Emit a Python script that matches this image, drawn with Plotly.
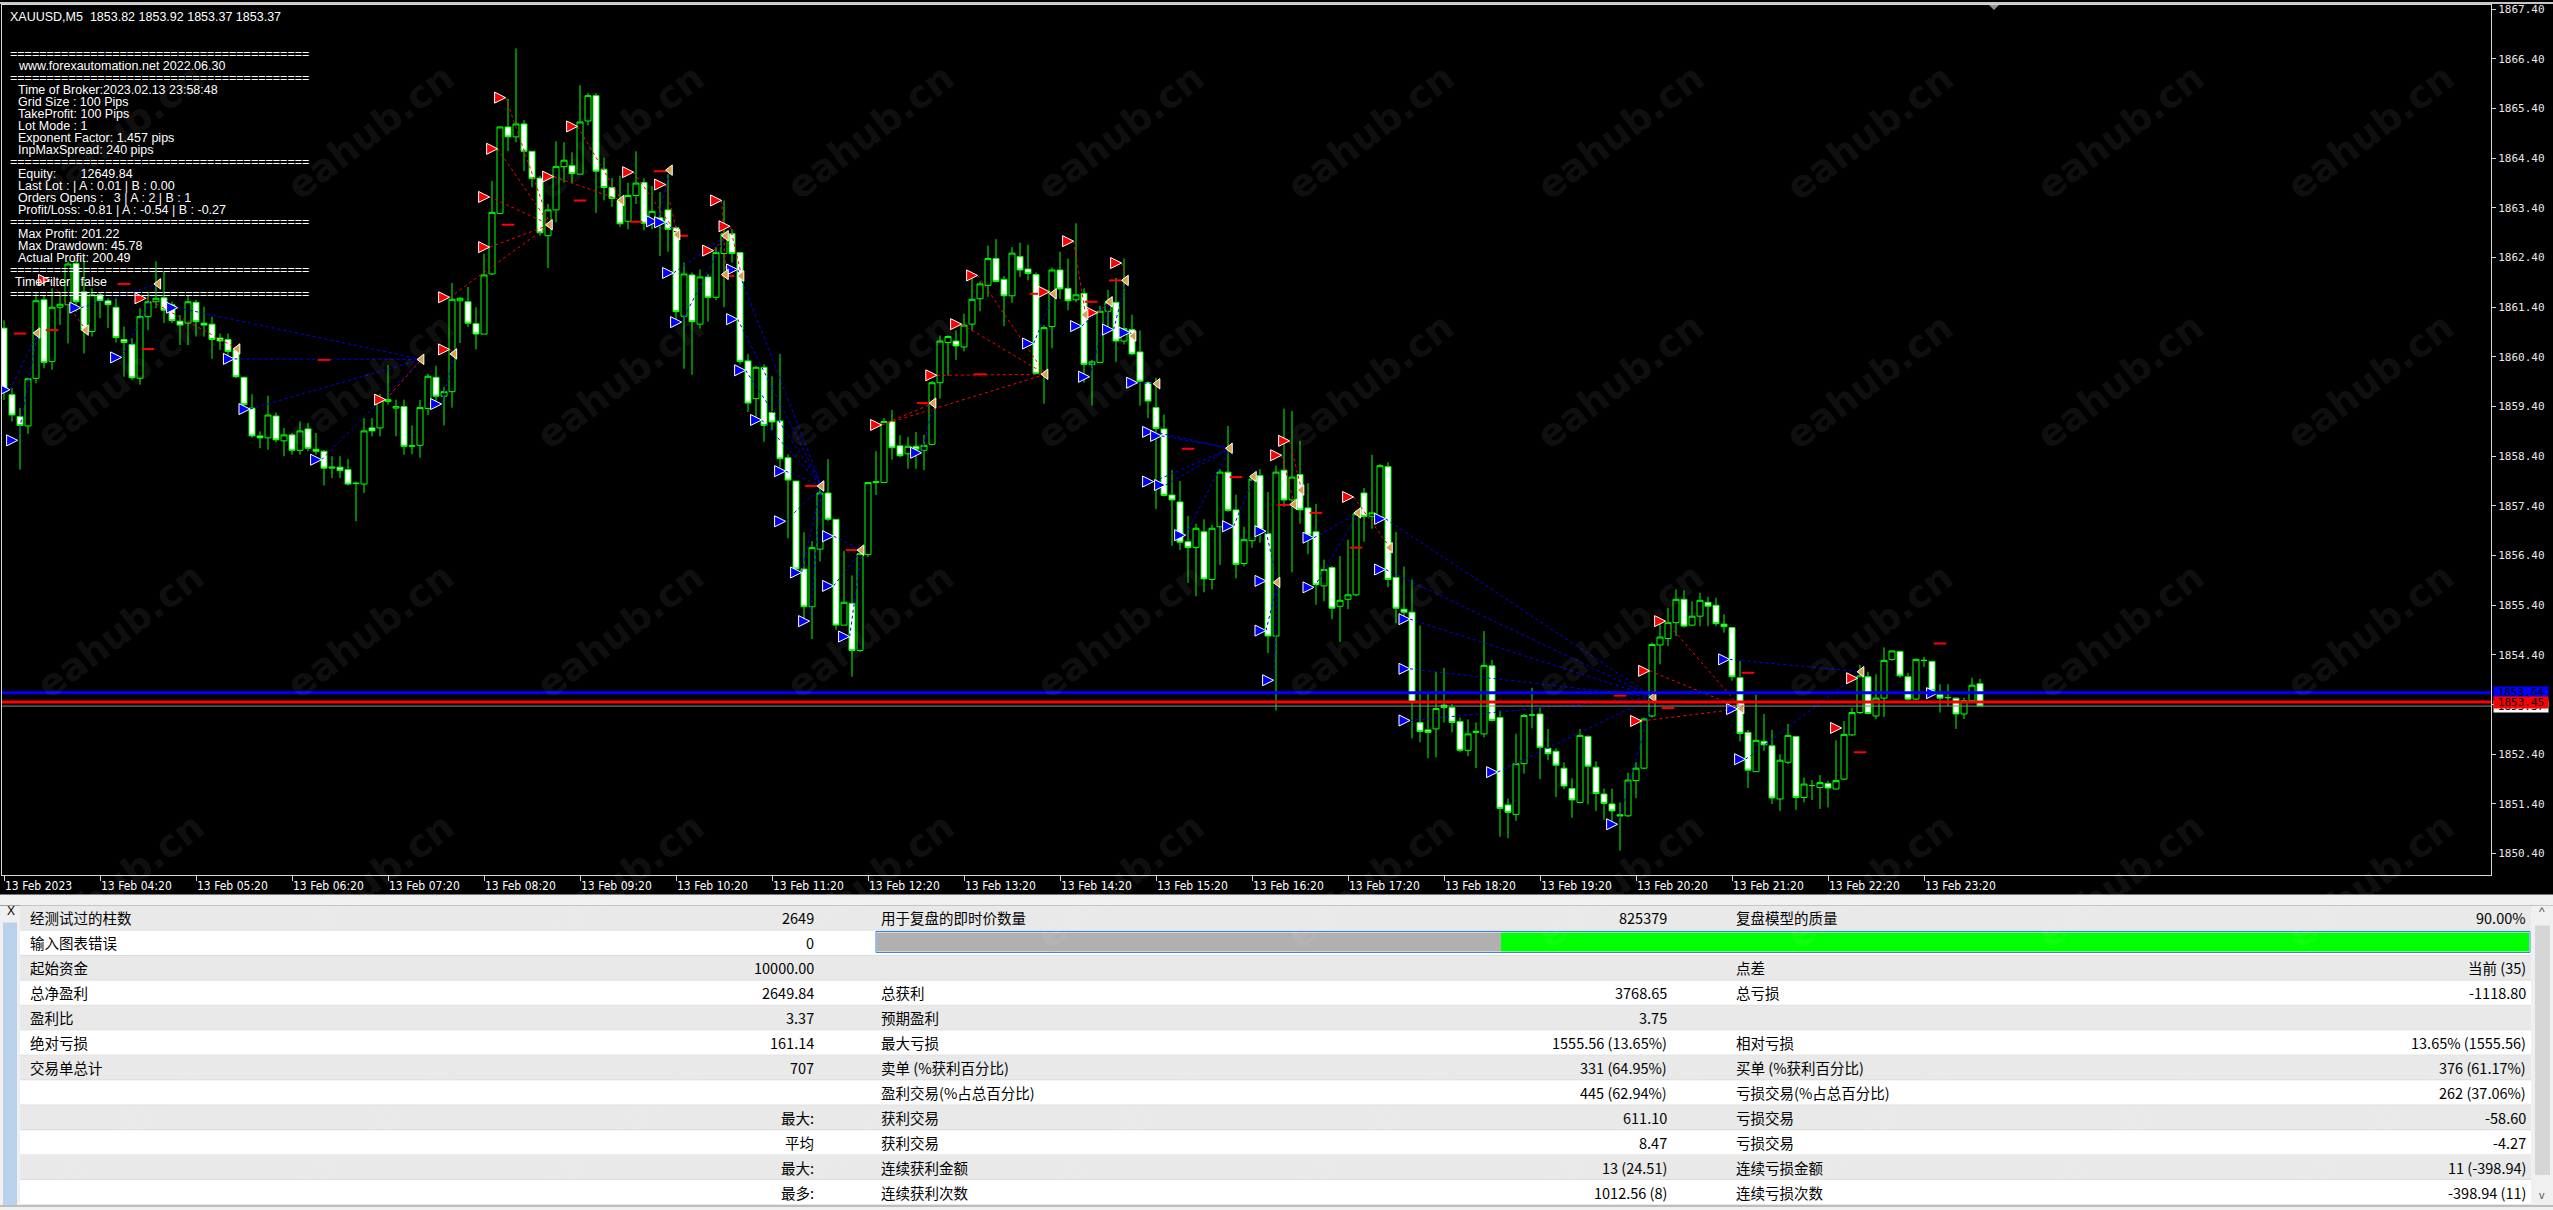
import plotly.graph_objects as go

W, H = 2553, 1210

# ---------------- candle data (XAUUSD M5, 13 Feb 2023 03:20 .. 23:55) ----------------
open_ = [1860.98,1859.64,1859.20,1859.01,1859.97,1861.55,1860.31,1861.40,1861.45,1862.28,
1861.71,1860.91,1861.65,1861.53,1861.40,1860.75,1860.65,1859.97,1861.21,1861.51,
1861.59,1861.45,1861.12,1861.08,1861.50,1861.08,1861.06,1860.78,1860.75,1860.54,
1859.99,1859.37,1858.81,1858.77,1859.21,1858.71,1858.83,1858.52,1858.95,1858.54,
1858.50,1858.16,1858.18,1858.13,1857.86,1857.84,1858.97,1858.97,1859.50,1859.37,
1859.40,1858.60,1858.62,1859.36,1859.99,1859.61,1859.70,1861.53,1861.51,1861.07,
1860.86,1862.07,1863.29,1865.03,1864.83,1865.09,1864.54,1864.00,1862.84,1863.36,
1864.23,1864.25,1864.08,1865.15,1865.66,1864.18,1863.81,1863.55,1863.13,1863.65,
1863.91,1863.11,1863.20,1863.36,1863.00,1861.22,1862.05,1861.06,1862.01,1861.60,
1862.48,1862.88,1862.50,1860.32,1859.56,1860.19,1859.28,1859.11,1858.37,1857.90,
1856.13,1855.37,1856.53,1857.66,1857.13,1855.00,1855.44,1854.49,1856.42,1857.87,
1857.87,1859.10,1858.61,1858.45,1858.60,1858.52,1858.64,1859.88,1860.69,1860.72,
1860.60,1861.06,1861.57,1861.84,1862.38,1861.96,1861.63,1862.42,1862.17,1862.06,
1860.05,1861.01,1862.15,1861.78,1861.55,1861.68,1860.25,1860.29,1861.32,1861.50,
1860.72,1860.95,1860.50,1859.88,1859.38,1858.95,1857.62,1857.48,1856.68,1856.56,
1856.88,1855.92,1856.98,1858.08,1857.32,1856.24,1856.70,1858.01,1856.84,1854.78,
1858.12,1857.52,1858.03,1857.36,1856.88,1855.79,1856.16,1855.38,1855.52,1855.61,
1857.66,1857.19,1857.14,1858.19,1855.96,1855.32,1855.26,1853.04,1852.89,1852.91,
1853.39,1853.34,1853.06,1852.48,1852.84,1852.81,1854.18,1853.14,1851.38,1851.19,
1852.21,1853.19,1853.21,1852.52,1852.46,1852.12,1851.71,1851.43,1852.76,1852.14,
1851.60,1851.40,1851.18,1851.16,1851.87,1852.12,1853.17,1854.60,1854.73,1855.05,
1855.52,1855.00,1855.18,1855.46,1855.40,1855.02,1854.95,1853.94,1852.84,1852.05,
1852.66,1852.57,1851.50,1852.24,1852.76,1851.53,1851.77,1851.73,1851.81,1851.70,
1851.90,1852.79,1853.24,1853.96,1853.17,1853.53,1854.31,1854.47,1853.96,1853.51,
1854.29,1854.27,1853.60,1853.54,1853.53,1853.21,1853.48,1853.82]

high_ = [1861.14,1859.77,1859.37,1859.98,1861.68,1861.65,1861.78,1861.71,1862.32,1862.35,
1862.32,1861.78,1861.71,1861.58,1861.58,1861.01,1860.78,1861.38,1861.71,1862.32,
1862.12,1861.51,1861.24,1861.63,1861.55,1861.41,1861.21,1860.87,1860.87,1860.57,
1860.00,1859.65,1858.90,1859.62,1859.28,1858.97,1858.87,1859.10,1859.07,1858.87,
1858.53,1858.40,1858.40,1858.34,1857.89,1859.17,1859.17,1859.65,1860.24,1859.54,
1859.54,1859.02,1859.53,1860.06,1860.22,1859.80,1861.89,1861.60,1861.81,1861.40,
1862.48,1863.94,1865.03,1865.60,1866.61,1865.17,1864.54,1864.05,1863.48,1864.74,
1864.72,1864.52,1865.87,1865.71,1865.71,1864.41,1864.00,1864.05,1863.91,1864.54,
1863.99,1863.84,1863.72,1864.08,1863.03,1862.30,1862.10,1862.16,1862.07,1862.61,
1863.55,1862.97,1862.52,1860.46,1860.22,1860.25,1860.01,1860.46,1858.44,1857.90,
1856.87,1856.69,1857.83,1858.34,1857.13,1856.49,1856.00,1856.49,1857.87,1858.50,
1859.17,1859.33,1858.82,1858.79,1858.89,1858.83,1859.91,1860.83,1860.83,1860.93,
1861.27,1861.98,1861.92,1862.64,1862.77,1862.03,1862.61,1862.70,1862.66,1862.10,
1861.04,1862.20,1862.52,1862.38,1863.09,1861.78,1860.34,1861.43,1861.75,1861.99,
1862.38,1861.25,1860.93,1859.91,1859.98,1859.24,1858.12,1857.90,1857.20,1857.04,
1857.13,1857.02,1858.14,1859.01,1857.63,1856.98,1858.04,1858.14,1857.68,1858.21,
1859.36,1859.31,1858.71,1857.86,1857.44,1856.32,1856.19,1856.39,1856.72,1857.31,
1857.76,1858.43,1858.24,1858.28,1856.88,1856.18,1855.92,1854.99,1853.61,1854.06,
1854.14,1853.41,1853.14,1853.10,1853.04,1854.88,1854.30,1853.28,1851.51,1852.81,
1853.21,1853.74,1853.34,1852.91,1852.52,1852.24,1851.92,1852.91,1852.78,1852.26,
1851.71,1851.71,1851.43,1852.03,1852.24,1853.14,1854.65,1855.03,1855.35,1855.72,
1855.70,1855.48,1855.65,1855.57,1855.55,1855.22,1854.96,1854.28,1852.89,1853.60,
1853.21,1852.89,1852.40,1853.01,1852.77,1851.93,1851.88,1851.98,1851.87,1852.68,
1853.07,1853.34,1854.20,1854.06,1854.01,1854.55,1854.49,1854.48,1854.04,1854.33,
1854.36,1854.28,1853.81,1853.81,1853.54,1853.54,1853.94,1853.92]

low_ = [1859.53,1859.10,1858.13,1858.85,1859.87,1860.17,1860.14,1861.04,1860.67,1861.31,
1860.47,1860.81,1861.18,1860.98,1860.69,1860.00,1859.94,1859.84,1860.94,1861.38,
1861.08,1861.08,1860.64,1860.64,1860.81,1860.81,1860.36,1860.54,1860.37,1859.97,
1859.37,1858.77,1858.56,1858.53,1858.68,1858.40,1858.43,1858.43,1858.50,1858.43,
1857.81,1857.96,1857.96,1857.81,1857.09,1857.66,1858.80,1858.80,1859.44,1858.80,
1858.43,1858.44,1858.37,1859.23,1859.38,1859.02,1859.38,1860.68,1861.00,1860.55,
1860.86,1862.05,1863.27,1864.54,1864.72,1864.14,1863.82,1862.84,1862.19,1863.11,
1863.91,1863.90,1864.08,1865.06,1863.30,1863.55,1863.42,1863.02,1862.97,1863.48,
1862.95,1862.97,1862.43,1862.52,1861.15,1860.16,1860.04,1860.97,1861.11,1861.54,
1861.40,1862.30,1860.25,1859.29,1859.07,1858.69,1858.93,1858.17,1856.75,1856.04,
1855.03,1854.72,1856.28,1857.09,1854.91,1855.00,1853.96,1854.46,1856.37,1857.62,
1857.87,1858.33,1858.38,1858.15,1858.15,1858.12,1858.62,1859.56,1860.02,1860.34,
1860.51,1860.93,1861.32,1861.61,1861.91,1861.02,1861.49,1862.01,1861.94,1860.05,
1859.46,1860.57,1861.57,1861.34,1861.50,1859.88,1859.42,1860.27,1860.93,1860.30,
1860.65,1860.44,1859.42,1859.17,1857.34,1857.59,1856.60,1856.51,1855.85,1855.58,
1855.66,1855.72,1856.21,1857.28,1855.94,1856.18,1856.56,1856.66,1854.44,1853.28,
1857.38,1856.06,1857.04,1856.43,1855.41,1855.48,1855.12,1854.66,1855.32,1855.58,
1856.68,1856.94,1857.11,1855.76,1855.04,1855.08,1852.72,1852.64,1852.32,1852.34,
1853.04,1852.84,1852.44,1852.36,1852.12,1852.74,1853.06,1850.74,1850.71,1851.06,
1852.01,1852.92,1851.90,1852.28,1851.54,1851.70,1851.12,1851.41,1851.39,1851.26,
1851.08,1850.98,1850.46,1851.14,1851.52,1852.10,1853.14,1854.21,1854.58,1854.78,
1854.95,1854.98,1854.98,1854.98,1854.98,1854.85,1853.88,1852.66,1851.72,1852.05,
1852.47,1851.40,1851.26,1852.20,1851.28,1851.43,1851.48,1851.30,1851.33,1851.69,
1851.88,1852.77,1853.21,1853.21,1853.11,1853.15,1854.28,1853.94,1853.48,1853.49,
1854.16,1853.64,1853.24,1853.37,1852.91,1853.11,1853.44,1853.37]

close_ = [1859.70,1859.23,1859.02,1859.96,1861.53,1860.29,1861.40,1861.46,1862.27,1861.51,
1860.94,1861.65,1861.53,1861.45,1860.79,1860.69,1859.98,1861.21,1861.51,1861.58,
1861.34,1861.13,1861.04,1861.51,1861.11,1861.04,1860.75,1860.72,1860.51,1860.00,
1859.44,1858.81,1858.77,1859.23,1858.73,1858.83,1858.52,1858.91,1858.56,1858.50,
1858.16,1858.18,1858.11,1857.84,1857.85,1858.91,1858.91,1859.52,1859.54,1859.40,
1858.60,1858.61,1859.38,1860.01,1859.61,1859.70,1861.56,1861.58,1861.08,1860.86,
1862.05,1863.31,1865.03,1864.83,1865.09,1864.54,1863.99,1862.90,1863.36,1864.23,
1864.36,1864.09,1865.13,1865.66,1864.14,1863.81,1863.59,1863.08,1863.65,1863.90,
1863.09,1863.33,1863.11,1862.97,1861.31,1862.07,1861.11,1862.01,1861.60,1862.50,
1862.88,1862.48,1860.31,1859.47,1860.19,1859.02,1859.09,1858.35,1857.92,1856.13,
1855.37,1856.56,1857.66,1857.13,1855.00,1855.46,1854.49,1856.44,1857.87,1857.89,
1859.10,1858.57,1858.41,1858.60,1858.54,1858.62,1859.88,1860.72,1860.81,1860.62,
1861.04,1861.56,1861.87,1862.38,1861.92,1861.63,1862.49,1862.15,1862.08,1860.07,
1860.99,1862.15,1861.77,1861.53,1861.65,1860.25,1860.30,1861.32,1861.50,1860.72,
1860.97,1860.46,1859.91,1859.51,1858.96,1857.61,1857.52,1856.67,1856.56,1856.95,
1855.93,1856.95,1858.08,1857.31,1856.22,1856.72,1857.94,1856.92,1854.78,1858.08,
1857.52,1857.98,1857.32,1856.81,1855.81,1856.12,1855.34,1855.50,1855.61,1857.24,
1857.19,1857.26,1858.21,1855.92,1855.34,1855.26,1853.44,1852.86,1852.84,1853.32,
1853.34,1853.04,1852.48,1852.81,1852.86,1854.19,1853.08,1851.31,1851.23,1852.21,
1853.18,1853.19,1852.54,1852.41,1852.18,1851.76,1851.48,1852.78,1852.16,1851.61,
1851.41,1851.26,1851.16,1851.88,1852.12,1853.11,1854.61,1854.76,1855.05,1855.52,
1854.98,1855.18,1855.50,1855.38,1855.03,1854.97,1853.96,1852.82,1852.08,1852.68,
1852.59,1851.52,1852.28,1852.78,1851.53,1851.80,1851.77,1851.83,1851.72,1851.87,
1852.80,1853.24,1853.98,1853.22,1853.53,1854.29,1854.48,1853.98,1853.51,1854.31,
1854.29,1853.68,1853.53,1853.54,1853.21,1853.48,1853.79,1853.37]

bars = list(range(len(close_)))

# time axis labels (one per hour, on the bar index where they sit)
time_tick_bars = [0, 12, 24, 36, 48, 60, 72, 84, 96, 108, 120, 132, 144, 156, 168, 180, 192, 204, 216, 228, 240]
time_tick_labels = ["13 Feb 2023", "13 Feb 04:20", "13 Feb 05:20", "13 Feb 06:20", "13 Feb 07:20",
                    "13 Feb 08:20", "13 Feb 09:20", "13 Feb 10:20", "13 Feb 11:20", "13 Feb 12:20",
                    "13 Feb 13:20", "13 Feb 14:20", "13 Feb 15:20", "13 Feb 16:20", "13 Feb 17:20",
                    "13 Feb 18:20", "13 Feb 19:20", "13 Feb 20:20", "13 Feb 21:20", "13 Feb 22:20",
                    "13 Feb 23:20"]
price_ticks = [1850.40, 1851.40, 1852.40, 1853.40, 1854.40, 1855.40, 1856.40, 1857.40, 1858.40,
               1859.40, 1860.40, 1861.40, 1862.40, 1863.40, 1864.40, 1865.40, 1866.40, 1867.40]
price_tick_labels = ["1850.40", "1851.40", "1852.40", "1853.40", "1854.40", "1855.40", "1856.40",
                     "1857.40", "1858.40", "1859.40", "1860.40", "1861.40", "1862.40", "1863.40",
                     "1864.40", "1865.40", "1866.40", "1867.40"]

# horizontal levels
level_blue = 1853.64
level_red = 1853.45
level_bid = 1853.37

# trade markers (bar position, price)
sell_open_bar = [5.7,17.75,47.7,55.7,55.7,60.7,60.7,61.7,62.7,68.7,71.7,78.7,82.7,88.7,89.7,90.75,
                 109.7,116.6,119.7,121.7,130.7,133.7,136.7,139.7,159.7,160.7,168.7,204.7,205.7,207.7,229.7,231.7]
sell_open_price = [1861.95,1861.58,1859.54,1861.60,1860.55,1862.61,1863.62,1864.59,1865.62,1864.03,1865.04,
                   1864.12,1863.87,1862.54,1863.55,1863.03,1859.03,1860.03,1861.06,1862.04,1861.71,1862.73,
                   1861.29,1862.29,1858.42,1858.71,1857.58,1853.07,1854.08,1855.08,1852.93,1853.93]
buy_open_bar = [0.75,1.7,9.6,14.7,21.7,28.8,30.75,39.7,54.7,81.7,82.7,83.7,84.7,91.7,91.7,92.7,94.7,97.7,97.7,
                99.7,100.7,103.7,103.7,105.7,114.7,128.7,134.7,135.7,138.7,140.75,141.7,143.7,144.7,143.7,145.2,
                147.7,153.7,157.75,157.75,157.75,158.7,163.75,163.75,172.7,172.7,175.75,175.75,175.75,186.7,
                201.7,215.7,216.7,217.7,241.7]
buy_open_price = [1859.74,1858.72,1861.39,1860.39,1861.39,1860.36,1859.35,1858.33,1859.45,1863.13,1863.11,
                  1862.09,1861.10,1862.16,1861.16,1860.13,1859.13,1858.10,1857.09,1856.06,1855.08,1856.79,
                  1855.79,1854.77,1858.47,1860.67,1861.02,1860.00,1860.95,1860.89,1859.88,1858.89,1858.81,
                  1857.89,1857.82,1856.81,1856.99,1856.89,1855.89,1854.89,1853.89,1856.76,1855.76,1857.14,
                  1856.12,1855.12,1854.12,1853.08,1852.04,1850.99,1854.31,1853.31,1852.30,1853.63]
close_mark_bar = [4.2,10.25,19.3,29.2,52.2,56.3,68.25,77.2,83.25,84.2,90.25,90.25,92.2,102.2,107.2,116.2,
                  130.2,131.25,135.2,138.25,140.25,141.2,144.2,153.25,156.25,159.2,161.3,162.2,169.3,173.25,
                  206.2,217.2,232.2]
close_mark_price = [1860.88,1860.94,1861.87,1860.56,1860.35,1860.46,1863.06,1863.55,1864.16,1862.86,1862.84,
                    1862.06,1862.03,1857.80,1856.51,1859.47,1860.05,1861.67,1861.25,1861.51,1861.94,1860.82,
                    1859.86,1858.56,1857.99,1855.86,1857.43,1857.72,1857.26,1856.56,1853.55,1853.32,1854.06]
stop_mark_bar = [2,6,15,18,40,63,72,82,79,84.7,90.5,100.9,106,114.9,122,129,135.9,138.9,148,154,160,164,169,
                 202,208,218,232,242]
stop_mark_price = [1860.87,1860.94,1861.87,1860.56,1860.34,1863.06,1863.55,1864.14,1863.12,1862.84,1862.03,
                   1857.80,1856.51,1859.47,1860.05,1861.67,1861.51,1861.94,1858.55,1857.98,1857.42,1857.26,
                   1856.56,1853.58,1853.33,1854.04,1852.44,1854.63]

# trade connection lines: (open bar, open price, close bar, close price)
sell_links = [(5.7,1861.95,10.25,1860.94),(17.75,1861.58,29.2,1860.56),(47.7,1859.54,52.2,1860.35),
              (55.7,1861.60,68.25,1863.06),(55.7,1860.55,56.3,1860.46),(60.7,1862.61,68.25,1863.06),
              (60.7,1863.62,68.25,1863.06),(61.7,1864.59,68.25,1863.06),(62.7,1865.62,68.25,1863.06),
              (68.7,1864.03,77.2,1863.55),(71.7,1865.04,77.2,1863.55),(78.7,1864.12,84.2,1862.86),
              (82.7,1863.87,84.2,1862.86),(88.7,1862.54,90.25,1862.84),(89.7,1863.55,90.25,1862.06),
              (90.75,1863.03,92.2,1862.03),(109.7,1859.03,116.2,1859.47),(109.7,1859.03,130.2,1860.05),
              (116.6,1860.03,130.2,1860.05),(119.7,1861.06,130.2,1860.05),(121.7,1862.04,130.2,1860.05),
              (130.7,1861.71,131.25,1861.67),(133.7,1862.73,135.2,1861.25),(136.7,1861.29,138.25,1861.51),
              (139.7,1862.29,140.25,1861.94),(159.7,1858.42,161.3,1857.43),(160.7,1858.71,162.2,1857.72),
              (168.7,1857.58,173.25,1856.56),(204.7,1853.07,217.2,1853.32),(205.7,1854.08,217.2,1853.32),
              (207.7,1855.08,217.2,1853.32)]
buy_links = [(0.75,1859.74,4.2,1860.88),(1.7,1858.72,4.2,1860.88),(9.6,1861.39,19.3,1861.87),
             (14.7,1860.39,19.3,1861.87),(21.7,1861.39,52.2,1860.35),(28.8,1860.36,52.2,1860.35),
             (30.75,1859.35,52.2,1860.35),(39.7,1858.33,52.2,1860.35),(54.7,1859.45,56.3,1860.46),
             (81.7,1863.13,83.25,1864.16),(82.7,1863.11,84.2,1862.86),(83.7,1862.09,90.25,1862.84),
             (84.7,1861.10,90.25,1862.84),(91.7,1862.16,102.2,1857.80),(91.7,1861.16,102.2,1857.80),
             (92.7,1860.13,102.2,1857.80),(94.7,1859.13,102.2,1857.80),(97.7,1858.10,102.2,1857.80),
             (97.7,1857.09,102.2,1857.80),(99.7,1856.06,102.2,1857.80),(100.7,1855.08,102.2,1857.80),
             (103.7,1856.79,107.2,1856.51),(103.7,1855.79,107.2,1856.51),(105.7,1854.77,107.2,1856.51),
             (114.7,1858.47,116.2,1859.47),(128.7,1860.67,131.25,1861.67),(134.7,1861.02,138.25,1861.51),
             (135.7,1860.00,138.25,1861.51),(138.7,1860.95,140.25,1861.94),(140.75,1860.89,141.2,1860.82),
             (141.7,1859.88,144.2,1859.86),(143.7,1858.89,153.25,1858.56),(144.7,1858.81,153.25,1858.56),
             (143.7,1857.89,153.25,1858.56),(145.2,1857.82,153.25,1858.56),(147.7,1856.81,153.25,1858.56),
             (153.7,1856.99,156.25,1857.99),(157.75,1856.89,159.2,1855.86),(157.75,1854.89,159.2,1855.86),
             (158.7,1853.89,159.2,1855.86),(163.75,1856.76,169.3,1857.26),(163.75,1855.76,169.3,1857.26),
             (172.7,1857.14,206.2,1853.55),(172.7,1856.12,206.2,1853.55),(175.75,1855.12,206.2,1853.55),
             (175.75,1854.12,206.2,1853.55),(175.75,1853.08,206.2,1853.55),(186.7,1852.04,206.2,1853.55),
             (201.7,1850.99,206.2,1853.55),(215.7,1854.31,232.2,1854.06),(217.7,1852.30,232.2,1854.06)]

# on-chart info panel text
chart_title = "XAUUSD,M5\u00a0\u00a01853.82 1853.92 1853.37 1853.37"
SEP = "=" * 41
info_lines = [SEP, "www.forexautomation.net 2022.06.30", SEP,
              "Time of Broker:2023.02.13 23:58:48", "Grid Size : 100 Pips", "TakeProfit: 100 Pips",
              "Lot Mode : 1", "Exponent Factor: 1.457 pips", "InpMaxSpread: 240 pips", SEP,
              "Equity:\u00a0\u00a0\u00a0\u00a0\u00a0\u00a0\u00a012649.84", "Last Lot : | A : 0.01 | B : 0.00",
              "Orders Opens :\u00a0\u00a0\u00a03 | A : 2 | B : 1", "Profit/Loss: -0.81 | A : -0.54 | B : -0.27", SEP,
              "Max Profit: 201.22", "Max Drawdown: 45.78", "Actual Profit: 200.49", SEP,
              "TimeFilter : false", SEP]

# report table
col1_labels = ["经测试过的柱数", "输入图表错误", "起始资金", "总净盈利", "盈利比", "绝对亏损", "交易单总计", "", "", "", "", ""]
col1_values = ["2649", "0", "10000.00", "2649.84", "3.37", "161.14", "707", "", "最大:", "平均", "最大:", "最多:"]
col2_labels = ["用于复盘的即时价数量", "", "", "总获利", "预期盈利", "最大亏损", "卖单 (%获利百分比)",
               "盈利交易(%占总百分比)", "获利交易", "获利交易", "连续获利金额", "连续获利次数"]
col2_values = ["825379", "", "", "3768.65", "3.75", "1555.56 (13.65%)", "331 (64.95%)", "445 (62.94%)",
               "611.10", "8.47", "13 (24.51)", "1012.56 (8)"]
col3_labels = ["复盘模型的质量", "", "点差", "总亏损", "", "相对亏损", "买单 (%获利百分比)",
               "亏损交易(%占总百分比)", "亏损交易", "亏损交易", "连续亏损金额", "连续亏损次数"]
col3_values = ["90.00%", "", "当前 (35)", "-1118.80", "", "13.65% (1555.56)", "376 (61.17%)", "262 (37.06%)",
               "-58.60", "-4.27", "11 (-398.94)", "-398.94 (11)"]

WATERMARK = "eahub.cn"

# ---------------- helpers ----------------
def fx(p):
    return p / W

def fy(p):
    return 1 - p / H

shapes = []
annotations = []

def rect(x0, y0, x1, y1, fill, lc=None, lw=0):
    shapes.append(dict(type="rect", xref="paper", yref="paper", x0=fx(x0), x1=fx(x1), y0=fy(y1), y1=fy(y0),
                       fillcolor=fill, line=dict(width=lw, color=lc or fill)))

def hline(x0, x1, y, color, lw=1):
    shapes.append(dict(type="line", xref="paper", yref="paper", x0=fx(x0), x1=fx(x1), y0=fy(y), y1=fy(y),
                       line=dict(width=lw, color=color)))

def text(x, y, s, size=12, color="#000", family="Noto Sans CJK SC, sans-serif", xanchor="left", **kw):
    annotations.append(dict(xref="paper", yref="paper", x=fx(x), y=fy(y), text=s, showarrow=False,
                            xanchor=xanchor, yanchor="middle", font=dict(size=size, color=color, family=family), **kw))

# ---------------- traces ----------------
fig = go.Figure()
fig.add_trace(go.Candlestick(
    x=bars, open=open_, high=high_, low=low_, close=close_,
    increasing=dict(line=dict(color="#00ff00", width=1), fillcolor="#000000"),
    decreasing=dict(line=dict(color="#00ff00", width=1), fillcolor="#ffffff"),
    whiskerwidth=0, hoverinfo="skip", showlegend=False))

def link_xy(links):
    xs, ys = [], []
    for b0, p0, b1, p1 in links:
        xs += [b0, b1, None]
        ys += [p0, p1, None]
    return xs, ys

bx, by = link_xy(buy_links)
sx, sy = link_xy(sell_links)
fig.add_trace(go.Scatter(x=bx, y=by, mode="lines", line=dict(color="#0000ff", width=1, dash="dot"),
                         hoverinfo="skip", showlegend=False))
fig.add_trace(go.Scatter(x=sx, y=sy, mode="lines", line=dict(color="#ff0000", width=1, dash="dot"),
                         hoverinfo="skip", showlegend=False))
fig.add_trace(go.Scatter(x=stop_mark_bar, y=stop_mark_price, mode="markers",
                         marker=dict(symbol="line-ew", size=9, line=dict(color="#ff0000", width=2)),
                         hoverinfo="skip", showlegend=False))
fig.add_trace(go.Scatter(x=buy_open_bar, y=buy_open_price, mode="markers",
                         marker=dict(symbol="arrow-right", size=11, color="#0000ff", line=dict(color="#ffffff", width=1)),
                         hoverinfo="skip", showlegend=False))
fig.add_trace(go.Scatter(x=sell_open_bar, y=sell_open_price, mode="markers",
                         marker=dict(symbol="arrow-right", size=11, color="#ff0000", line=dict(color="#ffffff", width=1)),
                         hoverinfo="skip", showlegend=False))
fig.add_trace(go.Scatter(x=close_mark_bar, y=close_mark_price, mode="markers",
                         marker=dict(symbol="triangle-left", size=9, color="#d9a24a", line=dict(color="#ffffff", width=1)),
                         hoverinfo="skip", showlegend=False))

# ---------------- chart decorations ----------------
PL, PR, PT, PB = 2, 2491, 3, 874
# level lines
for lvl, col, lw in [(level_bid, "#8a8a8a", 1), (level_red, "#ff0000", 3), (level_blue, "#0000ff", 3)]:
    shapes.append(dict(type="line", xref="paper", yref="y", x0=fx(PL), x1=fx(PR), y0=lvl, y1=lvl,
                       line=dict(color=col, width=lw)))
# right axis level labels
for lvl, bg, fg in [(level_bid, "#ffffff", "#000000"), (level_blue, "#0000ff", "#000000"), (level_red, "#ff0000", "#000000")]:
    annotations.append(dict(xref="paper", yref="y", x=fx(2493), y=lvl, xanchor="left", yanchor="middle",
                            text=f"{lvl:.2f}", showarrow=False, bgcolor=bg, width=54, height=11, borderpad=0,
                            font=dict(size=11, color=fg, family="DejaVu Sans Mono, monospace")))

# top strip + chart-shift marker
rect(0, 0, W, 2, "#c8c8c8")
shapes.append(dict(type="path", xref="paper", yref="paper",
                   path=f"M {fx(1989)} {fy(3)} L {fx(1999)} {fy(3)} L {fx(1994)} {fy(8)} Z",
                   fillcolor="#909090", line=dict(width=0)))

# x axis labels
for b, lab in zip(time_tick_bars, time_tick_labels):
    annotations.append(dict(xref="x", yref="paper", x=b, y=fy(885), xanchor="left", yanchor="middle",
                            text=lab, showarrow=False, xshift=-1,
                            font=dict(size=12, color="#ffffff",
                                      family="Liberation Sans Narrow, DejaVu Sans Condensed, Arial Narrow, sans-serif")))

# info panel
INFO_FONT = "Liberation Sans, Arial, sans-serif"
text(8, 15, chart_title, size=12.5, color="#ffffff", family=INFO_FONT)
for k, line in enumerate(info_lines):
    y = 52 + 12 * k
    if line == SEP:
        x = 8
    elif line.startswith("TimeFilter"):
        x = 13
    else:
        x = 16
    text(x, y, line, size=12.5, color="#ffffff", family=INFO_FONT)

# ---------------- report table ----------------
rect(0, 894, W, H, "#f0f0f0")
TOP, RH = 905, 25
TL, TR = 20, 2531
hline(0, W, TOP, "#a0a0a0", 1)
for i in range(12):
    y0 = TOP + RH * i
    rect(TL, y0, TR, y0 + RH, "#e9e9e9" if i % 2 == 0 else "#ffffff")
    hline(TL, TR, y0 + RH, "#cfcfcf", 1)
# modeling quality bar
rect(876, 931, 2530, 952, "#ffffff", "#2f7fd6", 1)
rect(877, 932, 1501, 951, "#b0b0b0")
rect(1501, 932, 2529, 951, "#00ff00")
# left strip and close button
rect(3, 922, 17, 1205, "#b9d1ea")
text(5, 911, "X", size=12, color="#000000", family="Liberation Sans, sans-serif")
# scrollbar
rect(2532, 905, W, 1205, "#f0f0f0")
rect(2535, 925, 2550, 1175, "#d6d6d6")
text(2542, 912, "^", size=12, color="#555555", family="Liberation Sans, sans-serif", xanchor="center")
text(2542, 1195, "v", size=11, color="#555555", family="Liberation Sans, sans-serif", xanchor="center")
# bottom tabs strip
rect(0, 1205, W, H, "#f0f0f0")
hline(0, W, 1206, "#8a8a8a", 1)

TFONT = "Noto Sans CJK SC, Microsoft YaHei, sans-serif"
for i in range(12):
    yc = TOP + RH * i + 12.5
    for lab, xl, val, xr in [(col1_labels[i], 28, col1_values[i], 816),
                             (col2_labels[i], 879, col2_values[i], 1669),
                             (col3_labels[i], 1734, col3_values[i], 2528)]:
        if lab:
            text(xl, yc, lab, size=14.5, color="#000000", family=TFONT)
        if val:
            text(xr, yc, val, size=14.5, color="#000000", family=TFONT, xanchor="right")

# watermark
for j in range(5):
    for i in range(10):
        annotations.append(dict(xref="paper", yref="paper", x=fx(120 + 250 * i), y=fy(130 + 250 * j),
                                text=WATERMARK, showarrow=False, textangle=-37, xanchor="center", yanchor="middle",
                                font=dict(size=38, color="rgba(255,255,255,0.085)",
                                          family="DejaVu Sans, sans-serif", weight="bold")))

fig.update_layout(
    width=W, height=H, autosize=False,
    margin=dict(l=0, r=0, t=0, b=0, pad=0),
    paper_bgcolor="#000000", plot_bgcolor="#000000",
    showlegend=False, boxgap=0.25, boxgroupgap=0,
    xaxis=dict(domain=[fx(PL), fx(PR)], range=[-0.25, -0.25 + (PR - PL) / 8.0],
               showgrid=False, zeroline=False, showline=True, linecolor="#d8d8d8", linewidth=1, mirror=True,
               ticks="outside", tickvals=time_tick_bars, ticklen=5, tickcolor="#d8d8d8",
               showticklabels=False, rangeslider=dict(visible=False), fixedrange=True),
    yaxis=dict(domain=[fy(PB), fy(PT)], side="right", range=[1849.978, 1867.485],
               showgrid=False, zeroline=False, showline=True, linecolor="#d8d8d8", linewidth=1, mirror=True,
               ticks="outside", ticklen=4, tickcolor="#d8d8d8", tickvals=price_ticks, ticktext=price_tick_labels,
               tickfont=dict(size=11, color="#e8e8e8", family="DejaVu Sans Mono, monospace"),
               fixedrange=True),
    shapes=shapes, annotations=annotations,
)

fig.write_html("out.html", config={"displayModeBar": False},
               post_script="document.body.style.margin='0px';document.body.style.overflow='hidden';")
